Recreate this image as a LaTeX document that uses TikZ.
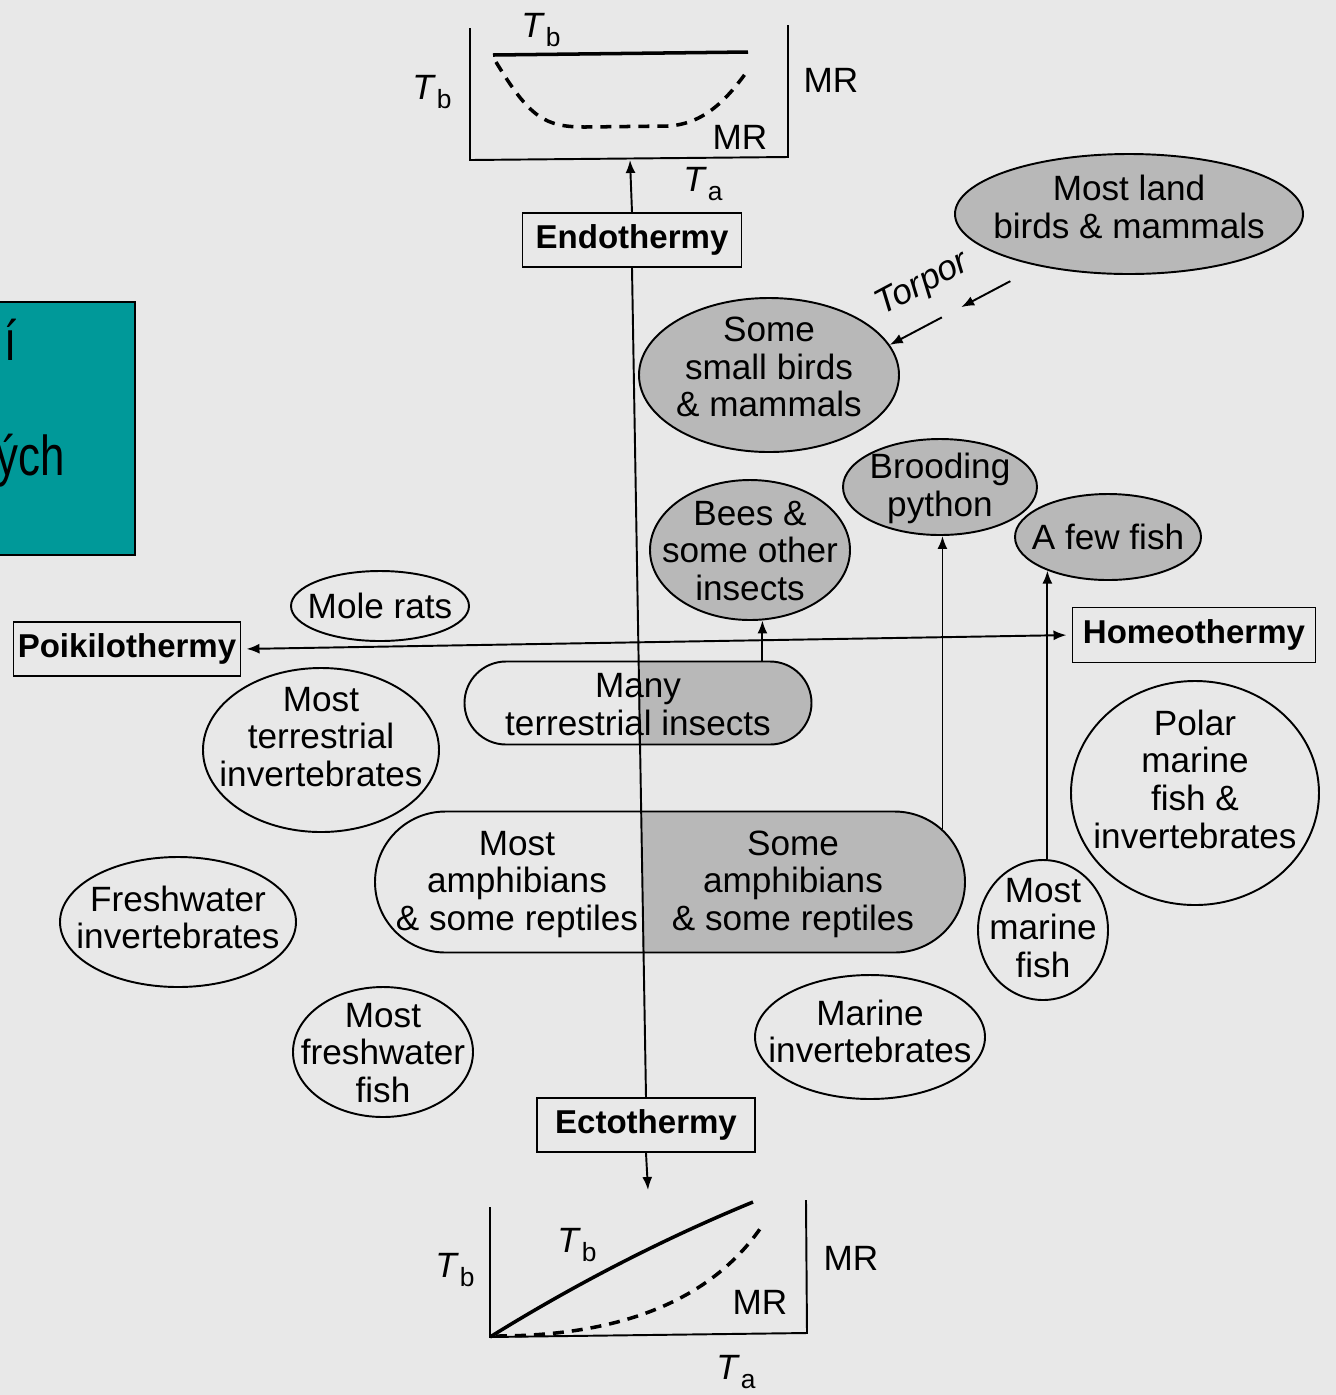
\documentclass[tikz,border=0pt]{standalone}
\usepackage{fontspec}
\setmainfont{Liberation Sans}
\usetikzlibrary{shapes.geometric,shapes.misc,arrows.meta,calc,positioning}
\definecolor{paper}{RGB}{232,232,232}
\definecolor{blob}{RGB}{184,184,184}
\definecolor{slideteal}{RGB}{0,153,153}
\newcommand{\Tsub}[1]{\textit{T}\kern0.03em\raisebox{-0.5ex}{\fontsize{7.5}{8}\selectfont #1}}
\newcommand{\taxtext}[2][-4pt]{\smash{\raisebox{#1}{\makebox[0pt]{\begin{tabular}{@{}c@{}}#2\end{tabular}}}}}
\begin{document}
\begin{tikzpicture}[x=0.1mm,y=-0.1mm,line width=0.55pt,
    every node/.style={font=\fontsize{10}{10.7}\selectfont},
    thermbox/.style={draw,rectangle,minimum height=5.4mm,inner sep=0pt,
      font=\fontsize{9.4}{11}\selectfont\bfseries},
    taxon/.style={draw,ellipse,inner sep=0pt},
    taxonshaded/.style={taxon,fill=blob},
    stadium/.style={draw,rounded rectangle,inner sep=0pt},
    halfshade/.style={path picture={\fill[blob] ([xshift=#1]path picture bounding box.south)
      rectangle (path picture bounding box.north east);}},
    slidetext/.style={anchor=base east,inner sep=0pt,xscale=0.78,font=\fontsize{16}{19}\selectfont},
    arr/.style={-{Latex[length=1.3mm,width=1mm]}},
    arrboth/.style={{Latex[length=1.3mm,width=1mm]}-{Latex[length=1.3mm,width=1mm]},
      shorten <=0.5mm,shorten >=0.5mm}]
  % Page
  \fill[paper] (0,0) rectangle (1336,1395);
  \useasboundingbox (0,0) rectangle (1336,1395);
  % Slide box on the left
  \filldraw[fill=slideteal,draw=black] (-20,302) rectangle (135,555);
  \node[slidetext] (slideA) at (17,360) {í};
  \node[slidetext] (slideB) at (66,475) {ých};
  % Endothermy graph
  \draw (470,28) -- (470,160) -- (788,157) -- (788,25);
  \draw[line width=1pt] (493,55) -- (748,52);
  \draw[line width=1pt,dash pattern=on 1.1mm off 0.8mm] (496,62) .. controls (530,118) and (545,127) .. (585,127)
    -- (668,126) .. controls (705,124) and (728,98) .. (748,70);
  \coordinate (endoaxis) at (630,160);
  \node (endoTb) at (541,30) {\Tsub{b}};
  \node (endoTbL) at (432,92) {\Tsub{b}};
  \node (endoMR) at (831,80) {MR};
  \node (endoMRin) at (740,137) {MR};
  \node (endoTa) at (703,184) {\Tsub{a}};
  % Ectothermy graph
  \draw (490,1207) -- (490,1337) -- (807,1333) -- (806,1200);
  \draw[line width=1pt] (490,1337) .. controls (590,1275) and (680,1232) .. (753,1202);
  \draw[line width=1pt,dash pattern=on 1.1mm off 0.8mm] (496,1336) .. controls (630,1336) and (715,1295) .. (762,1226);
  \coordinate (ectoaxis) at (648,1190);
  \node (ectoTbL) at (455,1270) {\Tsub{b}};
  \node (ectoTb) at (577,1245) {\Tsub{b}};
  \node (ectoMR) at (851,1258) {MR};
  \node (ectoMRin) at (760,1302) {MR};
  \node (ectoTa) at (736,1372) {\Tsub{a}};
  % Thermy boxes
  \node[thermbox,minimum width=21.9mm] (endo) at (632,240) {Endothermy};
  \node[thermbox,minimum width=21.8mm] (ecto) at (646,1125) {Ectothermy};
  \node[thermbox,minimum width=22.7mm] (poikilo) at (127,649) {Poikilothermy};
  \node[thermbox,minimum width=24.3mm,minimum height=5.5mm] (homeo) at (1194,635) {Homeothermy};
  % Shaded groups
  \node[taxonshaded,minimum width=34.8mm,minimum height=12mm] (landbirds) at (1129,214)
    {\taxtext[-2pt]{Most land\\birds \& mammals}};
  \node[taxonshaded,minimum width=26mm,minimum height=15.4mm] (smallbirds) at (769,375)
    {\taxtext[-1.5pt]{Some\\small birds\\\& mammals}};
  \node[taxonshaded,minimum width=20mm,minimum height=14mm] (bees) at (750,550)
    {\taxtext{Bees \&\\some other\\insects}};
  \node[taxonshaded,minimum width=19.4mm,minimum height=9.6mm] (python) at (940,487)
    {\taxtext[-3.3pt]{Brooding\\python}};
  \node[taxonshaded,minimum width=18.6mm,minimum height=8.6mm] (fewfish) at (1108,537)
    {\taxtext{A few fish}};
  % Open groups
  \node[taxon,minimum width=17.8mm,minimum height=7mm] (molerats) at (380,606) {\taxtext{Mole rats}};
  \node[taxon,minimum width=23.6mm,minimum height=16.4mm] (terrinv) at (321,750)
    {\taxtext[0pt]{Most\\terrestrial\\invertebrates}};
  \node[taxon,minimum width=23.6mm,minimum height=13mm] (freshinv) at (178,922)
    {\taxtext[-2.6pt]{Freshwater\\invertebrates}};
  \node[taxon,minimum width=18mm,minimum height=13mm] (freshfish) at (383,1052)
    {\taxtext{Most\\freshwater\\fish}};
  \node[taxon,minimum width=23mm,minimum height=12.4mm] (marinv) at (870,1037)
    {\taxtext[-2.3pt]{Marine\\invertebrates}};
  \node[taxon,minimum width=13mm,minimum height=14mm] (marfish) at (1043,930)
    {\taxtext[-3.2pt]{Most\\marine\\fish}};
  \node[taxon,minimum width=24.8mm,minimum height=22.4mm] (polar) at (1195,793)
    {\taxtext[0pt]{Polar\\marine\\fish \&\\invertebrates}};
  % Half shaded bands
  \node[stadium,halfshade=0mm,minimum width=34.7mm,minimum height=8.3mm] (insects) at (638,703)
    {\taxtext[-4.2pt]{Many\\terrestrial insects}};
  \node[stadium,halfshade=-2.8mm,minimum width=59mm,minimum height=14.1mm] (amph) at (670,882) {};
  \node (amphL) at (517,880) {\taxtext{Most\\amphibians\\\& some reptiles}};
  \node (amphR) at (793,880) {\taxtext{Some\\amphibians\\\& some reptiles}};
  % Axes of the scheme
  \draw (endo.south) -- (ecto.north);
  \draw[arr] (endo.north) -- (endoaxis);
  \draw[arr] (ecto.south) -- (ectoaxis);
  \draw[arrboth] (poikilo.east) -- (homeo.west);
  % Shifts to homeothermy
  \draw[arr] (insects.north -| bees.280) -- (bees.280);
  \draw[arr] (amph.11) -- (amph.11 |- python.south);
  \draw[arr] (fewfish.209 |- marfish.north) -- (fewfish.209);
  % Torpor
  \draw[arr] ($(landbirds.210)!0.19!(smallbirds.14)$) -- ($(landbirds.210)!0.52!(smallbirds.14)$);
  \draw[arr] ($(landbirds.210)!0.65!(smallbirds.14)$) -- (smallbirds.14);
  \node[rotate=28,anchor=south,inner sep=6pt,font=\fontsize{10}{12}\selectfont\itshape] (torpor)
    at ($(landbirds.210)!0.66!(smallbirds.14)$) {Torpor};
\end{tikzpicture}
\end{document}
